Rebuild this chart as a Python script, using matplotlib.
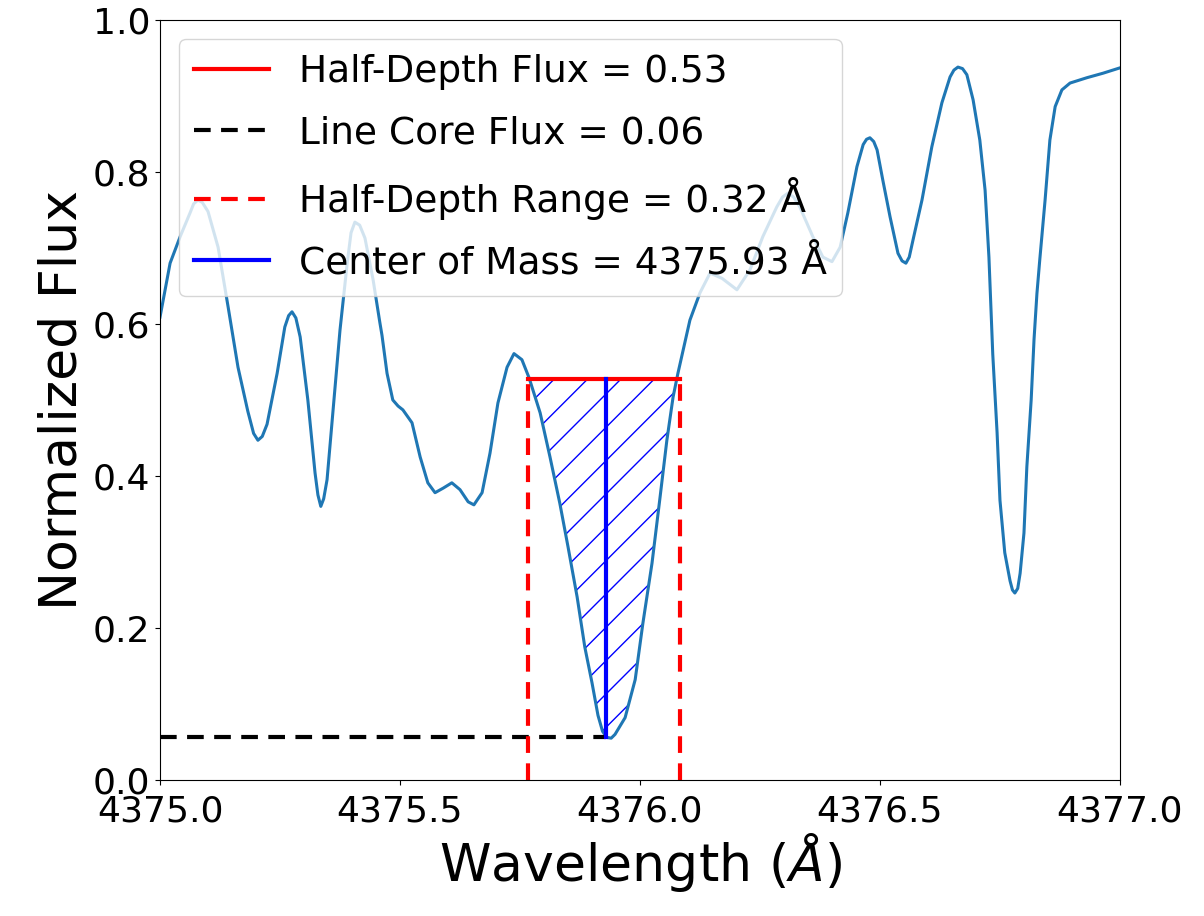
import numpy as np
import matplotlib
matplotlib.use("Agg")
import matplotlib.pyplot as plt
from matplotlib.ticker import FormatStrFormatter

# spectrum (wavelength in Angstrom, normalized flux)
wavelength = np.array([
    4375.000, 4375.021, 4375.042, 4375.0625, 4375.070, 4375.079, 4375.088, 4375.100,
    4375.121, 4375.142, 4375.1625, 4375.183, 4375.195, 4375.204, 4375.213, 4375.223,
    4375.244, 4375.260, 4375.268, 4375.275, 4375.283, 4375.292, 4375.308, 4375.323,
    4375.329, 4375.335, 4375.341, 4375.348, 4375.360, 4375.375, 4375.390, 4375.398,
    4375.406, 4375.416, 4375.427, 4375.444, 4375.458, 4375.4625, 4375.473, 4375.485,
    4375.496, 4375.506, 4375.525, 4375.542, 4375.558, 4375.573, 4375.590, 4375.608,
    4375.625, 4375.642, 4375.654, 4375.671, 4375.6875, 4375.704, 4375.723, 4375.7375,
    4375.754, 4375.769, 4375.792, 4375.8125, 4375.833, 4375.850, 4375.869, 4375.885,
    4375.900, 4375.9125, 4375.922, 4375.931, 4375.940, 4375.948, 4375.969, 4375.990,
    4376.006, 4376.025, 4376.042, 4376.056, 4376.069, 4376.079, 4376.090, 4376.104,
    4376.125, 4376.146, 4376.171, 4376.202, 4376.229, 4376.256, 4376.285, 4376.297,
    4376.308, 4376.320, 4376.333, 4376.360, 4376.381, 4376.400, 4376.417, 4376.433,
    4376.452, 4376.465, 4376.472, 4376.479, 4376.487, 4376.494, 4376.506, 4376.521,
    4376.5375, 4376.546, 4376.554, 4376.561, 4376.569, 4376.5875, 4376.608, 4376.629,
    4376.646, 4376.654, 4376.6625, 4376.672, 4376.681, 4376.694, 4376.708, 4376.719,
    4376.727, 4376.735, 4376.744, 4376.750, 4376.760, 4376.771, 4376.776, 4376.781,
    4376.787, 4376.792, 4376.800, 4376.806, 4376.815, 4376.821, 4376.827, 4376.833,
    4376.844, 4376.854, 4376.865, 4376.879, 4376.896, 4376.931, 4376.965, 4377.000])
flux = np.array([
    0.609, 0.680, 0.715, 0.746, 0.758, 0.763, 0.760, 0.748,
    0.701, 0.622, 0.543, 0.485, 0.456, 0.447, 0.452, 0.468,
    0.535, 0.596, 0.611, 0.616, 0.608, 0.583, 0.500, 0.404,
    0.375, 0.360, 0.370, 0.395, 0.483, 0.592, 0.680, 0.720,
    0.734, 0.730, 0.713, 0.658, 0.602, 0.585, 0.535, 0.500,
    0.492, 0.487, 0.470, 0.425, 0.391, 0.378, 0.384, 0.391,
    0.382, 0.366, 0.362, 0.378, 0.430, 0.496, 0.543, 0.561,
    0.553, 0.529, 0.483, 0.425, 0.364, 0.307, 0.241, 0.175,
    0.128, 0.085, 0.064, 0.056, 0.055, 0.060, 0.082, 0.132,
    0.206, 0.285, 0.373, 0.447, 0.504, 0.535, 0.566, 0.605,
    0.641, 0.667, 0.660, 0.645, 0.671, 0.715, 0.754, 0.767,
    0.772, 0.767, 0.754, 0.715, 0.688, 0.682, 0.701, 0.746,
    0.807, 0.836, 0.843, 0.845, 0.840, 0.829, 0.789, 0.741,
    0.693, 0.683, 0.680, 0.688, 0.711, 0.763, 0.833, 0.891,
    0.925, 0.934, 0.938, 0.936, 0.928, 0.895, 0.842, 0.776,
    0.688, 0.560, 0.457, 0.368, 0.299, 0.262, 0.250, 0.246,
    0.252, 0.272, 0.325, 0.412, 0.500, 0.580, 0.640, 0.685,
    0.763, 0.842, 0.886, 0.908, 0.917, 0.924, 0.930, 0.937])

line_core = 0.056
half_depth = 0.528
range_left = 4375.767
range_right = 4376.083
center_of_mass = 4375.93

fig, ax = plt.subplots(figsize=(12.04, 9.16), dpi=100)
fig.subplots_adjust(left=0.1329, right=0.9302, top=0.9782, bottom=0.1485)

ax.plot(wavelength, flux, color="C0", lw=2.2)

inside = (wavelength > range_left - 0.01) & (wavelength < range_right + 0.01) & (flux <= half_depth)
ax.fill_between(wavelength, flux, half_depth, where=inside, interpolate=True,
                facecolor="none", edgecolor="blue", hatch="/", linewidth=0)

ax.plot([range_left, range_right], [half_depth, half_depth], color="red", lw=3,
        label="Half-Depth Flux = 0.53")
ax.plot([4375.0, center_of_mass], [line_core, line_core], color="black", lw=3,
        ls="--", dashes=(4, 2.5), label="Line Core Flux = 0.06")
ax.plot([range_left, range_left], [0, half_depth], color="red", lw=3,
        ls="--", dashes=(4, 2.5), label="Half-Depth Range = 0.32 Å")
ax.plot([range_right, range_right], [0, half_depth], color="red", lw=3,
        ls="--", dashes=(4, 2.5))
ax.plot([center_of_mass, center_of_mass], [line_core, half_depth], color="blue", lw=3,
        label="Center of Mass = 4375.93 Å")

ax.set_xlim(4375.0, 4377.0)
ax.set_ylim(0.0, 1.0)
ax.set_xticks(np.arange(4375.0, 4377.01, 0.5))
ax.set_yticks(np.arange(0.0, 1.01, 0.2))
ax.xaxis.set_major_formatter(FormatStrFormatter("%.1f"))
ax.yaxis.set_major_formatter(FormatStrFormatter("%.1f"))
ax.tick_params(labelsize=26)
ax.tick_params(axis="x", pad=7)
ax.set_xlabel("Wavelength ($\\AA$)", fontsize=37.5, labelpad=2)
ax.set_ylabel("Normalized Flux", fontsize=37.5)
ax.legend(loc="upper left", fontsize=27, labelspacing=0.68)

fig.savefig("out.png", dpi=100)
